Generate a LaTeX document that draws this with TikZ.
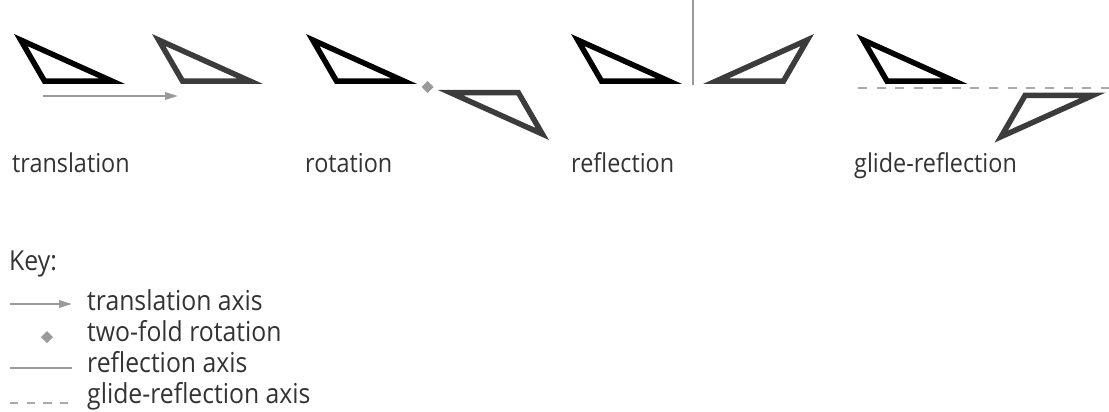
\documentclass[tikz,border=0pt]{standalone}
\usepackage{fontspec}
\setmainfont{Open Sans}[FakeStretch=0.9]
\usetikzlibrary{arrows.meta}
\definecolor{trigray}{HTML}{3C3C3C}
\definecolor{axisgray}{HTML}{9A9A9A}
\definecolor{dashgray}{HTML}{AAAAAA}
\definecolor{txtgray}{HTML}{333333}
\tikzset{
  tri/.style={line width=5.5pt, line join=miter, miter limit=12},
  blacktri/.style={tri, draw=black},
  graytri/.style={tri, draw=trigray},
  transaxis/.style={draw=axisgray, line width=1.8pt, -{Triangle[length=13pt,width=7.5pt]}},
  reflaxis/.style={draw=axisgray, line width=2pt},
  glideaxis/.style={draw=dashgray, line width=2pt, dash pattern=on 9pt off 9.7pt},
  keyglide/.style={draw=dashgray, line width=2pt, dash pattern=on 8.3pt off 8.3pt},
  rotpt/.style={fill=axisgray, draw=none},
  lbl/.style={inner sep=0pt, anchor=base west, text=txtgray, font=\fontsize{26}{31}\selectfont},
  keylbl/.style={inner sep=0pt, anchor=base west, text=txtgray, font=\fontsize{27.5}{32}\selectfont}
}
\begin{document}
\begin{tikzpicture}[x=1pt,y=-1pt]
\useasboundingbox (0,0) rectangle (1109,412);
% translation
\draw[blacktri] (20.7,40) -- (44.6,81.25) -- (112.3,81.25) -- cycle;
\draw[graytri] (158.7,40) -- (182.6,81.25) -- (250.3,81.25) -- cycle;
\coordinate (ta) at (43,96);
\coordinate (tb) at (178,96);
\draw[transaxis] (ta) -- (tb);
% rotation
\draw[blacktri] (312.7,40) -- (336.6,81.25) -- (404.3,81.25) -- cycle;
\draw[graytri] (542.3,134) -- (518.4,92.75) -- (450.7,92.75) -- cycle;
\fill[rotpt] (427.5,81) -- (433.5,87) -- (427.5,93) -- (421.5,87) -- cycle;
% reflection
\draw[blacktri] (577.7,40) -- (601.6,81.25) -- (669.3,81.25) -- cycle;
\draw[graytri] (807.3,40) -- (783.4,81.25) -- (715.7,81.25) -- cycle;
\coordinate (ra) at (692.5,0);
\coordinate (rb) at (692.5,85);
\draw[reflaxis] (ra) -- (rb);
% glide reflection
\draw[blacktri] (863.2,40) -- (887.1,81.25) -- (954.8,81.25) -- cycle;
\draw[graytri] (1001.2,136.6) -- (1025.1,95.35) -- (1092.8,95.35) -- cycle;
\coordinate (ga) at (858,88.3);
\coordinate (gb) at (1109,88.3);
\draw[glideaxis] (ga) -- (gb);
% labels
\node[lbl] (l1) at (12,172) {translation};
\node[lbl] (l2) at (305,172) {rotation};
\node[lbl] (l3) at (571,172) {reflection};
\node[lbl] (l4) at (854,172) {glide-reflection};
% key
\node[keylbl] (key) at (9,270) {Key:};
\coordinate (k1a) at (10,304);
\coordinate (k1b) at (72,304);
\draw[transaxis] (k1a) -- (k1b);
\node[keylbl] (k1) at (87,310.5) {translation axis};
\fill[rotpt] (47,331) -- (53,337) -- (47,343) -- (41,337) -- cycle;
\node[keylbl] (k2) at (87,341.5) {two-fold rotation};
\coordinate (k3a) at (10,368);
\coordinate (k3b) at (72,368);
\draw[reflaxis] (k3a) -- (k3b);
\node[keylbl] (k3) at (87,372.5) {reflection axis};
\coordinate (k4a) at (10,403);
\coordinate (k4b) at (72,403);
\draw[keyglide] (k4a) -- (k4b);
\node[keylbl] (k4) at (87,403.5) {glide-reflection axis};
\end{tikzpicture}
\end{document}
